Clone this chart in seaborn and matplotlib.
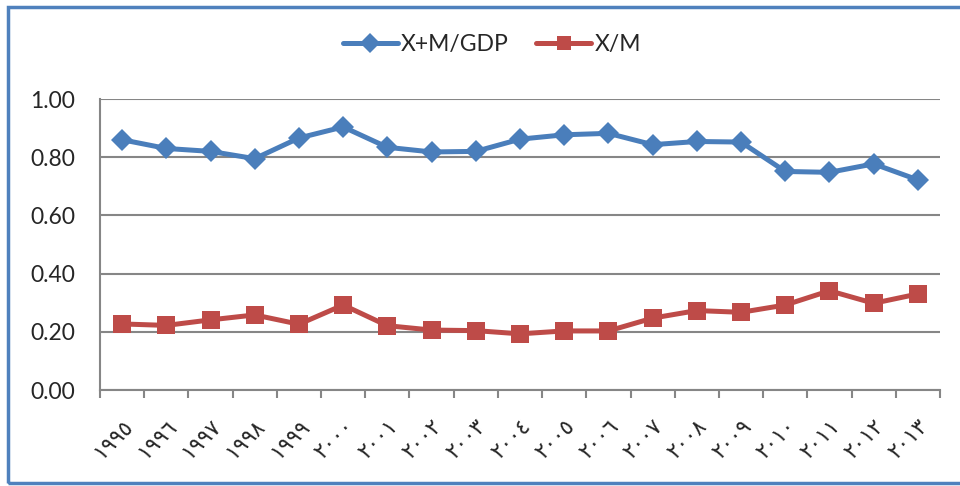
import numpy as np
import pandas as pd
import seaborn as sns
import matplotlib.pyplot as plt
from matplotlib.patches import Rectangle
from matplotlib.ticker import FixedLocator, FormatStrFormatter

# Years as printed on the chart (Arabic-Indic digits)
years = ['١٩٩٥', '١٩٩٦', '١٩٩٧', '١٩٩٨', '١٩٩٩', '٢٠٠٠', '٢٠٠١', '٢٠٠٢', '٢٠٠٣', '٢٠٠٤',
         '٢٠٠٥', '٢٠٠٦', '٢٠٠٧', '٢٠٠٨', '٢٠٠٩', '٢٠١٠', '٢٠١١', '٢٠١٢', '٢٠١٣']
trade_gdp = [0.86, 0.83, 0.82, 0.795, 0.866, 0.904, 0.834, 0.818, 0.82, 0.862,
             0.877, 0.882, 0.843, 0.854, 0.852, 0.751, 0.748, 0.777, 0.722]
exp_imp = [0.227, 0.222, 0.241, 0.258, 0.226, 0.292, 0.221, 0.206, 0.204, 0.193,
           0.203, 0.203, 0.247, 0.273, 0.267, 0.292, 0.341, 0.298, 0.330]
series_names = ['X+M/GDP', 'X/M']

df = pd.DataFrame({'pos': np.arange(len(years)), 'year': years,
                   series_names[0]: trade_gdp, series_names[1]: exp_imp})
long_df = df.melt(id_vars=['pos', 'year'], var_name='series', value_name='value')

sns.set_style('white')
plt.rcParams['font.family'] = ['Lato', 'DejaVu Sans']

fig = plt.figure(figsize=(9.6, 4.86), dpi=100)
ax = fig.add_axes([100 / 960, 1 - 390 / 486, 840 / 960, 291 / 486])

grid_col = '#868686'

sns.lineplot(data=long_df, x='pos', y='value', hue='series', style='series',
             palette=['#4A7EBB', '#BE4B48'], markers=['D', 's'], dashes=False,
             markersize=10, markeredgewidth=0, linewidth=3.6, ax=ax, legend=True)
# square markers a bit larger than diamonds
for line, ms in zip(ax.lines[:2], [11, 13.5]):
    line.set_markersize(ms)

ax.set_xlim(-0.5, len(years) - 0.5)
ax.set_ylim(0, 1.0)
ax.set_xlabel('')
ax.set_ylabel('')

ax.yaxis.set_major_locator(FixedLocator(np.arange(0, 1.01, 0.2)))
ax.yaxis.set_major_formatter(FormatStrFormatter('%.2f'))
ax.grid(axis='y', color=grid_col, linewidth=1.5)
ax.set_axisbelow(True)

ax.set_xticks(np.arange(len(years)))
ax.set_xticklabels(years, rotation=45, ha='right', va='top', rotation_mode='anchor',
                   fontsize=15.5, family=['DejaVu Sans'])
ax.set_xticks(np.arange(-0.5, len(years)), minor=True)
ax.tick_params(axis='x', which='major', length=0, pad=19)
ax.tick_params(axis='x', which='minor', length=6, width=1.5, color=grid_col, direction='out')
ax.tick_params(axis='y', length=6, width=1.5, color=grid_col, direction='out',
               labelsize=16.5, pad=12)
ax.tick_params(axis='x', which='minor', bottom=True)

for side in ['top', 'right']:
    ax.spines[side].set_visible(False)
for side in ['left', 'bottom']:
    ax.spines[side].set_color(grid_col)
    ax.spines[side].set_linewidth(1.5)

# legend at top
handles, labels = ax.get_legend_handles_labels()
ax.get_legend().remove()
fig.legend(handles, labels, loc='center', bbox_to_anchor=(492 / 960, 1 - 45 / 486),
           ncol=2, frameon=False, fontsize=16.5, handlelength=2.4, columnspacing=1.2,
           handletextpad=0.15)

# blue frame around the chart (right side cut off)
fig.patches.append(Rectangle((8 / 960, 3 / 486), 1.1, 1 - 10 / 486, transform=fig.transFigure,
                             fill=False, edgecolor='#4F81BD', linewidth=2.5))

fig.savefig('out.png', dpi=100, facecolor='white')
